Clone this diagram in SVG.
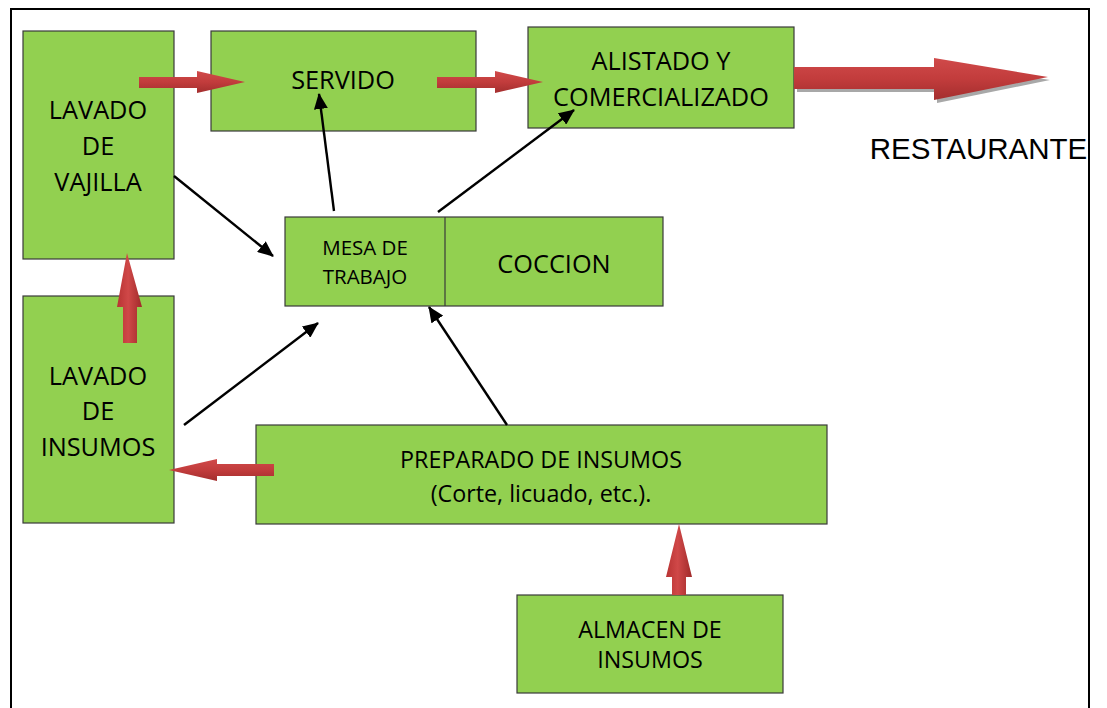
<svg xmlns="http://www.w3.org/2000/svg" width="1107" height="708" viewBox="0 0 1107 708">
<style>
.box{fill:#92d050;stroke:#3a3a3a;stroke-width:1.2}
.t{font-family:"Open Sans","Noto Sans",sans-serif;fill:#000;text-anchor:middle}
.b{font-size:25.3px}
.s{font-size:23.3px}
.m{font-size:20.5px}
.ln{stroke:#000;stroke-width:2.4;fill:none;marker-end:url(#ah)}
.rh{fill:url(#gh)}
.rv{fill:url(#gv)}
</style>
<defs>
<linearGradient id="gh" x1="0" y1="0" x2="0" y2="1">
<stop offset="0" stop-color="#d04a4a"/>
<stop offset="0.5" stop-color="#c23c3c"/>
<stop offset="1" stop-color="#a32e2e"/>
</linearGradient>
<linearGradient id="gv" x1="0" y1="0" x2="1" y2="0">
<stop offset="0" stop-color="#b83333"/>
<stop offset="0.45" stop-color="#d04848"/>
<stop offset="1" stop-color="#a02a2a"/>
</linearGradient>
<marker id="ah" markerUnits="userSpaceOnUse" markerWidth="16" markerHeight="14" refX="15" refY="7" orient="auto">
<path d="M0,0 L16,7 L0,14 z" fill="#000"/>
</marker>
</defs>
<rect width="1107" height="708" fill="#fff"/>
<rect x="11" y="9" width="1078" height="720" fill="none" stroke="#000" stroke-width="2"/>

<g id="lavado-vajilla">
<rect class="box" x="23" y="31" width="151" height="228"/>
<text class="t b" x="98" y="119">LAVADO</text>
<text class="t b" x="98" y="155">DE</text>
<text class="t b" x="98" y="191">VAJILLA</text>
</g>
<g id="servido">
<rect class="box" x="211" y="31" width="265" height="100"/>
<text class="t b" x="343" y="89">SERVIDO</text>
</g>
<g id="alistado">
<rect class="box" x="528" y="27" width="266" height="101"/>
<text class="t b" x="661" y="70">ALISTADO Y</text>
<text class="t b" x="661" y="106">COMERCIALIZADO</text>
</g>
<g id="restaurante">
<text x="978.5" y="159" font-family="Liberation Sans, Arial, sans-serif" font-size="29.5" text-anchor="middle">RESTAURANTE</text>
</g>
<g id="mesa-coccion">
<rect class="box" x="285" y="217" width="378" height="89"/>
<line x1="445" y1="217" x2="445" y2="306" stroke="#3a3a3a" stroke-width="1.2"/>
<text class="t m" x="365" y="255">MESA DE</text>
<text class="t m" x="365" y="284">TRABAJO</text>
<text class="t b" x="554" y="273">COCCION</text>
</g>
<g id="lavado-insumos">
<rect class="box" x="23" y="296" width="151" height="227"/>
<text class="t b" x="98" y="385">LAVADO</text>
<text class="t b" x="98" y="420">DE</text>
<text class="t b" x="98" y="456">INSUMOS</text>
</g>
<g id="preparado">
<rect class="box" x="256" y="425" width="571" height="99"/>
<text class="t s" x="541" y="468">PREPARADO DE INSUMOS</text>
<text class="t s" x="541" y="502">(Corte, licuado, etc.).</text>
</g>
<g id="almacen">
<rect class="box" x="517" y="595" width="266" height="98"/>
<text class="t s" x="650" y="638">ALMACEN DE</text>
<text class="t s" x="650" y="668">INSUMOS</text>
</g>

<g id="connectors">
<polygon class="rh" points="139,77 197,77 197,71 245,82 197,93 197,88 139,88"/>
<polygon class="rh" points="437,77 495,77 495,71 543,82 495,93 495,88 437,88"/>
<polygon fill="#a8a8a8" points="797,71 937,71 937,62 1050,80 937,103 937,92 797,92"/>
<polygon class="rh" points="794,67 934,67 934,58 1048,77 934,100 934,89 794,89"/>
<polygon class="rv" points="123,343 123,307 117,307 127,253 142,307 137,307 137,343"/>
<polygon class="rh" points="274,464 217,464 217,459 169,470 217,481 217,476 274,476"/>
<polygon class="rv" points="672,595 672,577 666,577 679,524 692,577 686,577 686,595"/>
<line class="ln" x1="174" y1="176" x2="273" y2="256"/>
<line class="ln" x1="184" y1="425" x2="318" y2="323"/>
<line class="ln" x1="334" y1="211" x2="319" y2="94"/>
<line class="ln" x1="438" y1="212" x2="574" y2="110"/>
<line class="ln" x1="507" y1="425" x2="429" y2="307"/>
</g>
</svg>
